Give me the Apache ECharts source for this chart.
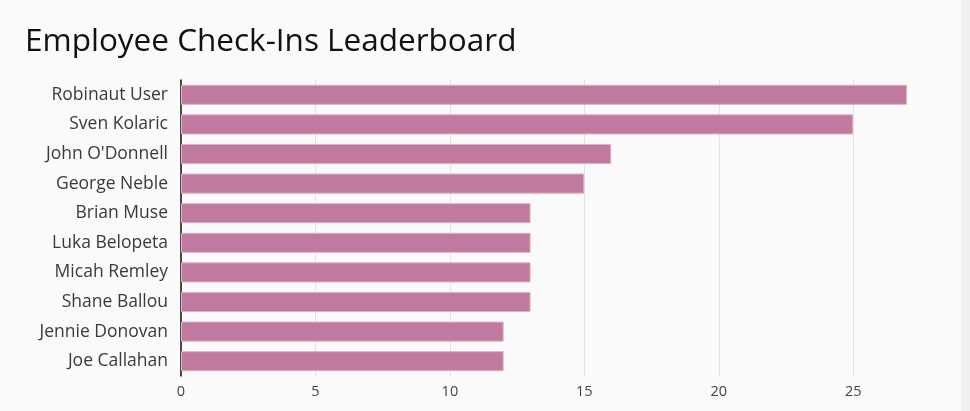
<!DOCTYPE html>
<html lang="en">
<head>
    <meta charset="UTF-8">
    <title>Employee Check-Ins Leaderboard</title>
    <script src="https://cdn.jsdelivr.net/npm/echarts@6/dist/echarts.min.js"></script>
    <style>
        html, body { margin: 0; padding: 0; background: #f0f0f0; }
        #chart { width: 961px; height: 411px; background: #fafafa; }
    </style>
</head>
<body>
<div id="chart"></div>
<script>
    var names = ['Robinaut User', 'Sven Kolaric', "John O'Donnell", 'George Neble', 'Brian Muse',
        'Luka Belopeta', 'Micah Remley', 'Shane Ballou', 'Jennie Donovan', 'Joe Callahan'];
    var checkIns = [27, 25, 16, 15, 13, 13, 13, 13, 12, 12];

    var myChart = echarts.init(document.getElementById('chart'));

    var option = {
        backgroundColor: '#fafafa',
        title: {
            text: 'Employee Check-Ins Leaderboard',
            left: 20,
            top: 21,
            textStyle: {
                fontFamily: 'Open Sans',
                fontSize: 31.5,
                fontWeight: 'normal',
                color: '#111'
            }
        },
        grid: {
            left: 181,
            top: 80,
            width: 726,
            height: 296,
            containLabel: false
        },
        xAxis: {
            type: 'value',
            min: 0,
            max: 27,
            interval: 5,
            axisLine: { show: false },
            axisTick: { show: false },
            axisLabel: {
                showMaxLabel: false,
                margin: 8,
                fontFamily: 'Open Sans',
                fontSize: 14.5,
                color: '#444'
            },
            splitLine: {
                showMaxLine: false,
                lineStyle: { color: '#e3e3e3', width: 1 }
            }
        },
        yAxis: {
            type: 'category',
            inverse: true,
            data: names,
            axisLine: { show: true, lineStyle: { color: '#111', width: 1.5 } },
            axisTick: { show: false },
            axisLabel: {
                margin: 13,
                fontFamily: 'Open Sans',
                fontSize: 17.5,
                color: '#3a3a3a'
            }
        },
        series: [{
            type: 'bar',
            data: checkIns,
            barCategoryGap: '32%',
            itemStyle: {
                color: '#c17a9f',
                borderColor: '#dcb3c8',
                borderWidth: 1
            }
        }]
    };

    myChart.setOption(option);
</script>
</body>
</html>
